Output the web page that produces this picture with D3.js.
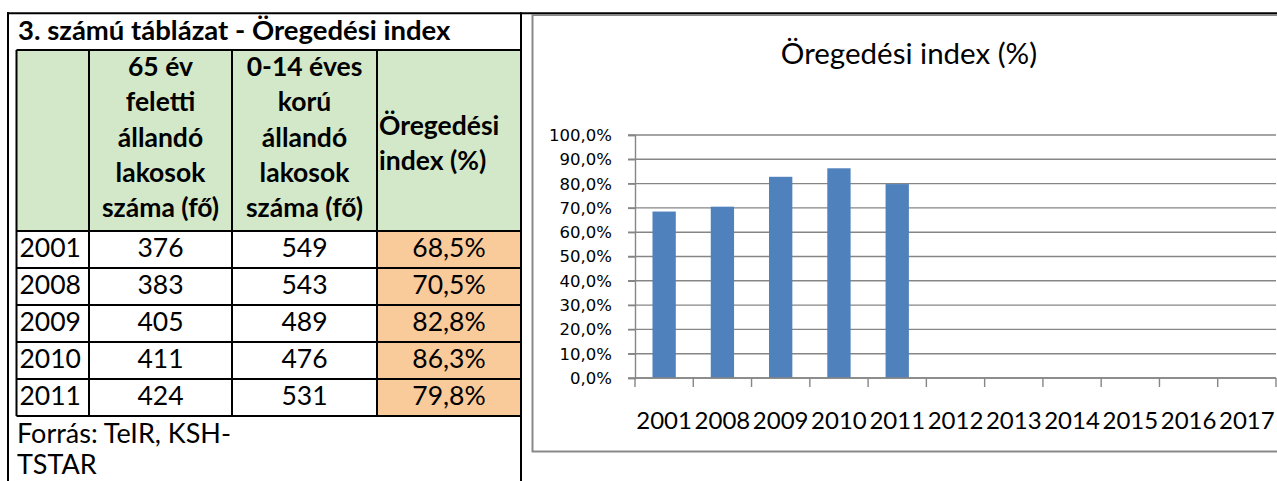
<!DOCTYPE html>
<html lang="hu">
  <head>
    <meta charset="UTF-8" />
    <title>Öregedési index</title>
    <script src="https://cdn.jsdelivr.net/npm/d3@7"></script>
    <style>
      body { margin: 0; background: #fff; }
      svg { display: block; }
    </style>
  </head>
  <body>
    <div id="chart"></div>
    <script>
      // table data
      let years = ["2001", "2008", "2009", "2010", "2011"];
      let over65 = [376, 383, 405, 411, 424];
      let under14 = [549, 543, 489, 476, 531];
      let agingIndex = [68.5, 70.5, 82.8, 86.3, 79.8];

      let tableTitle = "3. számú táblázat - Öregedési index";
      let headOver65 = ["65 év", "feletti", "állandó", "lakosok", "száma (fő)"];
      let headUnder14 = ["0-14 éves", "korú", "állandó", "lakosok", "száma (fő)"];
      let headIndex = ["Öregedési", "index (%)"];
      let sourceLines = ["Forrás: TeIR, KSH-", "TSTAR"];

      // chart data
      let chartTitle = "Öregedési index (%)";
      let chartYears = ["2001", "2008", "2009", "2010", "2011", "2012",
        "2013", "2014", "2015", "2016", "2017"];

      let width = 1277;
      let height = 481;

      // hungarian number format: 68,5%
      let hu = d3.formatLocale({
        decimal: ",",
        thousands: " ",
        grouping: [3],
        currency: ["", " Ft"],
      });
      let pct = (v) => hu.format(".1f")(v) + "%";

      let svg = d3
        .select("#chart")
        .append("svg")
        .attr("width", width)
        .attr("height", height);

      // ---- left side: table ----
      let tableFont = "Lato, 'Open Sans', sans-serif";
      let cols = [16.5, 89, 232, 377, 521]; // column edges
      let headTop = 50;

      let rowY = d3.scaleBand().domain(years).range([231, 416]);

      let table = svg.append("g").style("font-family", tableFont);

      // header fill
      table
        .append("rect")
        .attr("x", cols[0])
        .attr("y", headTop)
        .attr("width", cols[4] - cols[0])
        .attr("height", rowY.range()[0] - headTop)
        .attr("fill", "#d3e8c8");

      // index column fill
      table
        .selectAll("rect.idx")
        .data(years)
        .enter()
        .append("rect")
        .attr("class", "idx")
        .attr("x", cols[3])
        .attr("y", (d) => rowY(d))
        .attr("width", cols[4] - cols[3])
        .attr("height", rowY.bandwidth())
        .attr("fill", "#f9ca9a");

      // cell borders
      let hLines = [headTop].concat(years.map((d) => rowY(d)), [rowY.range()[1]]);
      table
        .selectAll("line.h")
        .data(hLines)
        .enter()
        .append("line")
        .attr("x1", cols[0])
        .attr("x2", cols[4])
        .attr("y1", (d) => d)
        .attr("y2", (d) => d)
        .attr("stroke", "#000")
        .attr("stroke-width", 2);

      table
        .selectAll("line.v")
        .data(cols.slice(0, 4))
        .enter()
        .append("line")
        .attr("x1", (d) => d)
        .attr("x2", (d) => d)
        .attr("y1", headTop)
        .attr("y2", rowY.range()[1])
        .attr("stroke", "#000")
        .attr("stroke-width", 2);

      // outer frame of the page
      let frame = svg.append("g").attr("stroke", "#000").attr("stroke-width", 2);
      frame.append("line").attr("x1", 7).attr("x2", width).attr("y1", 13.3).attr("y2", 13.3);
      frame.append("line").attr("x1", 8).attr("x2", 8).attr("y1", 12.3).attr("y2", height);
      frame.append("line").attr("x1", 521).attr("x2", 521).attr("y1", 12.3).attr("y2", height);

      // table title
      table
        .append("text")
        .attr("x", 18)
        .attr("y", 40)
        .style("font-size", "27.5px")
        .style("font-weight", "bold")
        .text(tableTitle);

      // header texts
      let lineGap = 35.3;
      function headerBlock(lines, x, y0, anchor) {
        return table
          .append("g")
          .style("font-weight", "bold")
          .style("font-size", "26.5px")
          .attr("text-anchor", anchor)
          .selectAll("text")
          .data(lines)
          .enter()
          .append("text")
          .attr("x", x)
          .attr("y", (d, i) => y0 + i * lineGap)
          .text((d) => d);
      }
      headerBlock(headOver65, (cols[1] + cols[2]) / 2, 76, "middle");
      headerBlock(headUnder14, (cols[2] + cols[3]) / 2, 76, "middle");
      headerBlock(headIndex, cols[3] + 2, 135, "start");

      // body rows
      let rows = table
        .selectAll("g.row")
        .data(years)
        .enter()
        .append("g")
        .attr("class", "row")
        .style("font-size", "26.5px")
        .attr("transform", (d) => `translate(0,${rowY(d) + rowY.bandwidth() - 11})`);

      rows.append("text").attr("x", 19.5).text((d) => d);
      rows
        .append("text")
        .attr("x", (cols[1] + cols[2]) / 2)
        .attr("text-anchor", "middle")
        .text((d, i) => over65[i]);
      rows
        .append("text")
        .attr("x", (cols[2] + cols[3]) / 2)
        .attr("text-anchor", "middle")
        .text((d, i) => under14[i]);
      rows
        .append("text")
        .attr("x", (cols[3] + cols[4]) / 2)
        .attr("text-anchor", "middle")
        .text((d, i) => pct(agingIndex[i]));

      // source note
      table
        .selectAll("text.src")
        .data(sourceLines)
        .enter()
        .append("text")
        .attr("class", "src")
        .attr("x", 17)
        .attr("y", (d, i) => 443 + i * 31)
        .style("font-size", "27px")
        .text((d) => d);

      // ---- right side: chart ----
      let chart = svg.append("g");
      let plotLeft = 635;
      let plotRight = 1276;
      let plotTop = 135;
      let plotBottom = 378;

      // chart border (runs off the right edge)
      chart
        .append("rect")
        .attr("x", 532.5)
        .attr("y", 15)
        .attr("width", 800)
        .attr("height", 436.5)
        .attr("fill", "#fff")
        .attr("stroke", "#898989")
        .attr("stroke-width", 2);

      chart
        .append("text")
        .attr("x", 909)
        .attr("y", 64)
        .attr("text-anchor", "middle")
        .style("font-family", tableFont)
        .style("font-size", "29.5px")
        .attr("fill", "#000")
        .text(chartTitle);

      let x = d3.scaleBand().domain(chartYears).range([plotLeft, plotRight]);
      let y = d3.scaleLinear().domain([0, 100]).range([plotBottom, plotTop]);

      // gridlines
      chart
        .append("g")
        .selectAll("line")
        .data(y.ticks(10))
        .enter()
        .append("line")
        .attr("x1", plotLeft - 7)
        .attr("x2", plotRight)
        .attr("y1", (d) => y(d))
        .attr("y2", (d) => y(d))
        .attr("stroke", "#868686")
        .attr("stroke-width", 1.4);

      // y axis line and ticks
      let yAxis = chart
        .append("g")
        .attr("transform", `translate(${plotLeft},0)`)
        .call(d3.axisLeft(y).ticks(10).tickSize(7).tickFormat(""));
      yAxis.select(".domain").attr("stroke", "#868686").attr("stroke-width", 1.4);
      yAxis.selectAll(".tick line").attr("stroke", "#868686").attr("stroke-width", 1.4);

      // y labels
      chart
        .append("g")
        .selectAll("text")
        .data(y.ticks(10))
        .enter()
        .append("text")
        .attr("x", plotLeft - 23)
        .attr("y", (d) => y(d))
        .attr("dy", "0.36em")
        .attr("text-anchor", "end")
        .attr("font-family", "DejaVu Sans")
        .attr("font-size", 16.5)
        .attr("fill", "#000")
        .text((d) => pct(d));

      // bars
      let barW = x.bandwidth() * 0.4;
      chart
        .append("g")
        .selectAll("rect")
        .data(years)
        .enter()
        .append("rect")
        .attr("x", (d) => x(d) + (x.bandwidth() - barW) / 2)
        .attr("y", (d, i) => y(agingIndex[i]))
        .attr("width", barW)
        .attr("height", (d, i) => plotBottom - y(agingIndex[i]))
        .attr("fill", "#4f81bd");

      // x axis, ticks sit between categories
      let xg = chart.append("g");
      xg.append("line")
        .attr("x1", plotLeft)
        .attr("x2", plotRight)
        .attr("y1", plotBottom)
        .attr("y2", plotBottom)
        .attr("stroke", "#868686")
        .attr("stroke-width", 1.4);
      xg.selectAll("line.tk")
        .data(chartYears.concat(["end"]))
        .enter()
        .append("line")
        .attr("class", "tk")
        .attr("x1", (d, i) => plotLeft + i * x.step())
        .attr("x2", (d, i) => plotLeft + i * x.step())
        .attr("y1", plotBottom)
        .attr("y2", plotBottom + 9)
        .attr("stroke", "#868686")
        .attr("stroke-width", 1.4);
      xg.selectAll("text")
        .data(chartYears)
        .enter()
        .append("text")
        .attr("x", (d) => x(d) + x.bandwidth() / 2)
        .attr("y", 429)
        .attr("text-anchor", "middle")
        .style("font-family", tableFont)
        .style("font-size", "24px")
        .attr("fill", "#000")
        .text((d) => d);
    </script>
  </body>
</html>
